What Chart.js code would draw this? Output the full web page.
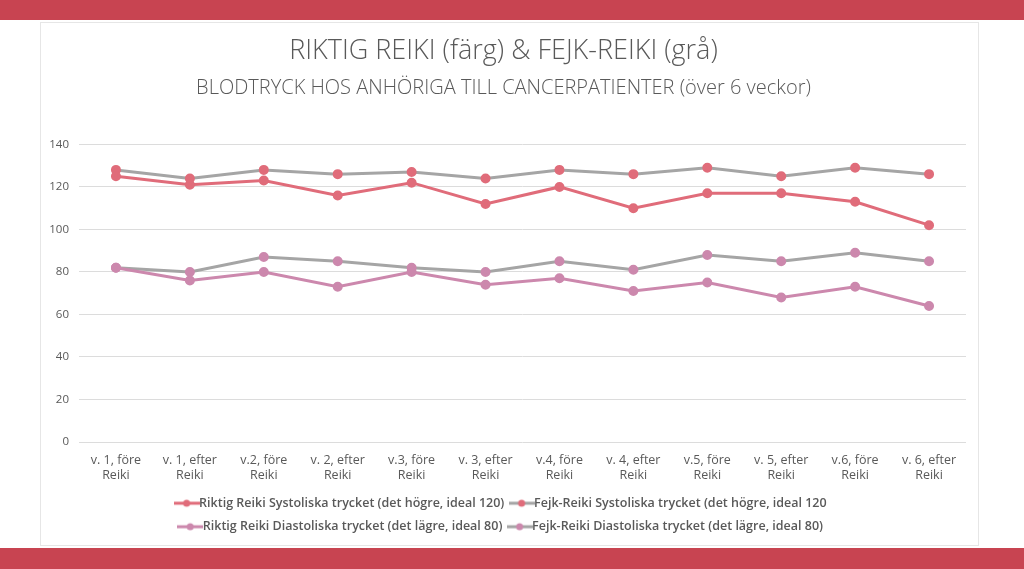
<!DOCTYPE html>
<html>
<head>
<meta charset="utf-8">
<script src="https://cdn.jsdelivr.net/npm/chart.js@4.4.1/dist/chart.umd.min.js"></script>
<style>
  html, body { margin:0; padding:0; background:#fff; }
  body { width:1024px; height:569px; position:relative; overflow:hidden; font-family:"Open Sans", sans-serif; }
  .band { position:absolute; left:0; width:1024px; background:#c84451; }
  #bandTop { top:0; height:20px; }
  #bandBot { top:548px; height:21px; }
  #card { position:absolute; left:40px; top:22px; width:937px; height:522px; border:1px solid #e6e6e6; background:#fff; }
</style>
</head>
<body>
<div class="band" id="bandTop"></div>
<div class="band" id="bandBot"></div>
<div id="card"><canvas id="grafico" width="937" height="522"></canvas></div>
<script>
// datos
const semanas = [
  ["v. 1, före","Reiki"],["v. 1, efter","Reiki"],["v.2, före","Reiki"],["v. 2, efter","Reiki"],
  ["v.3, före","Reiki"],["v. 3, efter","Reiki"],["v.4, före","Reiki"],["v. 4, efter","Reiki"],
  ["v.5, före","Reiki"],["v. 5, efter","Reiki"],["v.6, före","Reiki"],["v. 6, efter","Reiki"]
];
const riktigSys = [125,121,123,116,122,112,120,110,117,117,113,102];
const fejkSys   = [128,124,128,126,127,124,128,126,129,125,129,126];
const riktigDia = [82,76,80,73,80,74,77,71,75,68,73,64];
const fejkDia   = [82,80,87,85,82,80,85,81,88,85,89,85];
const ticksY    = [0,20,40,60,80,100,120,140];

const rojo = '#e06c7a';
const rosa = '#cc88ad';
const gris = '#a5a5a5';

// icono de leyenda: linea con punto
function iconoLeyenda(colorLinea, colorPunto){
  const c = document.createElement('canvas');
  c.width = 26; c.height = 10;
  const ctx = c.getContext('2d');
  ctx.strokeStyle = colorLinea; ctx.lineWidth = 3;
  ctx.beginPath(); ctx.moveTo(0,5); ctx.lineTo(26,5); ctx.stroke();
  ctx.fillStyle = colorPunto;
  ctx.beginPath(); ctx.arc(13,5,3.5,0,Math.PI*2); ctx.fill();
  return c;
}

function serie(label, data, colorLinea, colorPunto){
  return {
    label: label,
    data: data,
    borderColor: colorLinea,
    backgroundColor: colorPunto,
    pointBackgroundColor: colorPunto,
    pointBorderColor: colorPunto,
    pointRadius: 3.5,
    pointHoverRadius: 3.5,
    borderWidth: 3,
    tension: 0,
    fill: false,
    pointStyle: 'circle',
    legendIcon: iconoLeyenda(colorLinea, colorPunto)
  };
}

const chartData = {
  labels: semanas,
  datasets: [
    serie('Riktig Reiki Systoliska trycket (det högre, ideal 120)', riktigSys, rojo, rojo),
    serie('Fejk-Reiki Systoliska trycket (det högre, ideal 120', fejkSys, gris, rojo),
    serie('Riktig Reiki Diastoliska trycket (det lägre, ideal 80)', riktigDia, rosa, rosa),
    serie('Fejk-Reiki Diastoliska trycket (det lägre, ideal 80)', fejkDia, gris, rosa)
  ]
};

const chartOptions = {
  responsive: false,
  animation: false,
  layout: { padding: { left: 0, right: 12, top: 8, bottom: 2 } },
  plugins: {
    title: {
      display: true,
      text: 'RIKTIG REIKI (färg) & FEJK-REIKI (grå)',
      color: '#595959',
      font: { family: 'Open Sans', size: 27, weight: '300' },
      padding: { top: 4, bottom: 9 }
    },
    subtitle: {
      display: true,
      text: 'BLODTRYCK HOS ANHÖRIGA TILL CANCERPATIENTER (över 6 veckor)',
      color: '#595959',
      font: { family: 'Open Sans', size: 20, weight: '300' },
      padding: { bottom: 44 }
    },
    legend: {
      position: 'bottom',
      labels: {
        usePointStyle: true,
        color: '#595959',
        font: { family: 'Open Sans', size: 12.5, weight: '600' },
        padding: 11,
        generateLabels: function(chart){
          return chart.data.datasets.map((d, i) => ({
            text: d.label,
            pointStyle: d.legendIcon,
            fillStyle: d.backgroundColor,
            strokeStyle: d.borderColor,
            lineWidth: 0,
            fontColor: '#595959',
            datasetIndex: i,
            hidden: false
          }));
        }
      }
    },
    tooltip: { enabled: false }
  },
  scales: {
    x: {
      offset: true,
      grid: { display: false },
      border: { display: false },
      ticks: { color: '#595959', font: { family: 'Open Sans', size: 12.5 }, maxRotation: 0, autoSkip: false, padding: 3 }
    },
    y: {
      min: ticksY[0], max: ticksY[ticksY.length-1],
      afterBuildTicks: function(axis){ axis.ticks = ticksY.map(v => ({ value: v })); },
      ticks: { color: '#595959', font: { family: 'Open Sans', size: 11.5 }, padding: 10 },
      grid: { color: '#dcdcdc', lineWidth: 1, drawTicks: false },
      border: { display: false },
      afterFit: function(axis){ axis.width = 38; }
    }
  }
};

new Chart(document.getElementById('grafico').getContext('2d'), { type: 'line', data: chartData, options: chartOptions });
</script>
</body>
</html>
